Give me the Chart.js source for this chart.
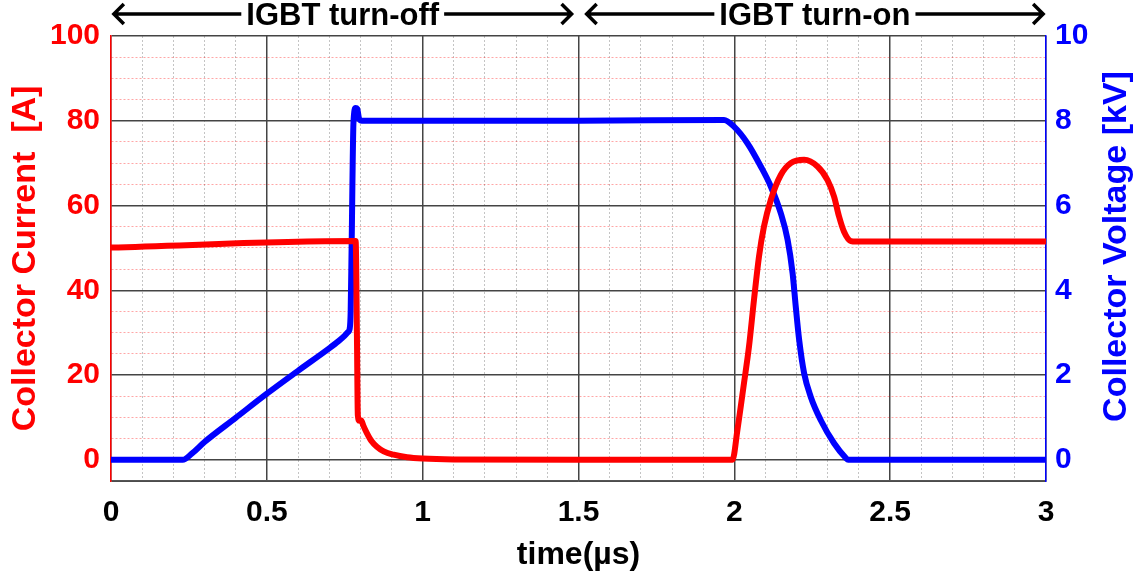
<!DOCTYPE html>
<html>
<head>
<meta charset="utf-8">
<script src="https://cdn.jsdelivr.net/npm/chart.js@4.4.0/dist/chart.umd.min.js"></script>
<style>
html,body{margin:0;padding:0;background:#fff;}
</style>
</head>
<body>
<canvas id="chart" width="1147" height="579"></canvas>
<script>
// collector current [A] vs time [us]
const timeI = [0, 0.785, 0.789, 0.792, 0.797, 0.803, 0.810, 0.821, 0.835, 0.853, 0.875, 0.907, 0.95, 1.0, 1.1, 1.5,
  1.994, 2.010, 2.031, 2.047, 2.063, 2.079, 2.095, 2.117, 2.149, 2.181, 2.224, 2.267, 2.299, 2.320, 2.336, 2.352, 2.374, 2.39, 3.0];
const currentA = [50.1, 51.6, 30, 10.5, 9.2, 9.3, 8.0, 6.3, 4.5, 3.1, 2.0, 1.2, 0.6, 0.3, 0.1, 0,
  0, 7.1, 18.1, 26.7, 37.7, 47.9, 55.0, 61.3, 67.2, 70.0, 70.8, 69.2, 66.0, 62.1, 57.4, 53.8, 51.6, 51.5, 51.5];

// collector voltage [kV] vs time [us]
const timeV = [0, 0.23, 0.26, 0.3, 0.4, 0.5, 0.6, 0.7, 0.73, 0.75, 0.76, 0.766, 0.769, 0.772, 0.778, 0.785, 0.79, 0.796, 0.805, 1.0, 1.5,
  1.967, 1.999, 2.042, 2.085, 2.117, 2.149, 2.171, 2.187, 2.197, 2.208, 2.224, 2.245, 2.277, 2.32, 2.358, 2.365, 3.0];
const voltageKV = [0, 0, 0.15, 0.42, 0.99, 1.56, 2.1, 2.63, 2.8, 2.93, 3.01, 3.1, 3.5, 5.0, 7.96, 8.3, 8.28, 8.05, 8.0, 8.0, 8.0,
  8.02, 7.86, 7.47, 6.92, 6.45, 5.82, 5.19, 4.40, 3.62, 2.83, 2.04, 1.49, 0.94, 0.39, 0.04, 0, 0];

// ticks
const xTicks = [];
for (let i = 0; i <= 30; i++) xTicks.push(i / 10);
const yTicks = [];
for (let v = -5; v <= 100; v += 5) yTicks.push(v);
const y1Ticks = [0, 2, 4, 6, 8, 10];

// phase arrows on top
const phaseLabels = ['IGBT turn-off', 'IGBT turn-on'];
const phaseStart = [0.006, 1.523];
const phaseEnd = [1.481, 2.994];

const FONT = '"Liberation Sans", Arial, sans-serif';

function isMajorX(v) { return Math.abs(v * 2 - Math.round(v * 2)) < 1e-6; }
function isMajorY(v) { return v % 20 === 0; }

const phaseArrows = {
  id: 'phaseArrows',
  afterDraw(chart) {
    const c = chart.ctx, sx = chart.scales.x;
    c.save();
    c.font = 'bold 31px ' + FONT;
    c.fillStyle = '#000';
    c.strokeStyle = '#000';
    c.lineWidth = 3.5;
    c.textAlign = 'center';
    c.textBaseline = 'middle';
    const y = 14;
    for (let i = 0; i < phaseLabels.length; i++) {
      const x0 = sx.getPixelForValue(phaseStart[i]);
      const x1 = sx.getPixelForValue(phaseEnd[i]);
      const mid = (x0 + x1) / 2;
      const w = c.measureText(phaseLabels[i]).width;
      c.fillText(phaseLabels[i], mid, y + 2);
      c.beginPath();
      c.moveTo(x0, y); c.lineTo(mid - w / 2 - 5, y);
      c.moveTo(mid + w / 2 + 5, y); c.lineTo(x1, y);
      c.moveTo(x0 + 11, y - 10); c.lineTo(x0 + 1, y); c.lineTo(x0 + 11, y + 10);
      c.moveTo(x1 - 11, y - 10); c.lineTo(x1 - 1, y); c.lineTo(x1 - 11, y + 10);
      c.stroke();
    }
    c.restore();
  }
};

const rightTitle = {
  id: 'rightTitle',
  afterDraw(chart) {
    const c = chart.ctx, a = chart.chartArea;
    c.save();
    c.translate(1117, (a.top + a.bottom) / 2 - 12);
    c.rotate(-Math.PI / 2);
    c.font = 'bold 34px ' + FONT;
    c.fillStyle = '#0000ff';
    c.textAlign = 'center';
    c.textBaseline = 'middle';
    c.fillText('Collector Voltage [kV]', 0, 0);
    c.restore();
  }
};

new Chart(document.getElementById('chart'), {
  type: 'line',
  data: {
    datasets: [{
      label: 'Collector Current',
      data: timeI.map((t, i) => ({x: t, y: currentA[i]})),
      borderColor: '#ff0000',
      borderWidth: 6,
      pointRadius: 0,
      cubicInterpolationMode: 'monotone',
      yAxisID: 'y'
    }, {
      label: 'Collector Voltage',
      data: timeV.map((t, i) => ({x: t, y: voltageKV[i]})),
      borderColor: '#0000ff',
      borderWidth: 6,
      pointRadius: 0,
      cubicInterpolationMode: 'monotone',
      yAxisID: 'y1'
    }]
  },
  options: {
    responsive: false,
    animation: false,
    layout: {padding: {top: 36, left: 0, right: 0, bottom: 0}},
    plugins: {legend: {display: false}, tooltip: {enabled: false}},
    scales: {
      x: {
        type: 'linear', min: 0, max: 3,
        afterBuildTicks: ax => { ax.ticks = xTicks.map(v => ({value: v})); },
        afterFit: ax => { ax.height = 98; },
        ticks: {
          autoSkip: false, maxRotation: 0, padding: 14, color: '#000',
          font: {family: FONT, size: 30, weight: 'bold'},
          callback: v => isMajorX(v) ? String(v) : ''
        },
        grid: {
          drawTicks: false,
          color: ctx => ctx.tick && isMajorX(ctx.tick.value) ? '#444' : '#c4c4c4',
          lineWidth: ctx => ctx.tick && isMajorX(ctx.tick.value) ? 1.5 : 1
        },
        border: {color: '#555', width: 1.5, dash: ctx => ctx.tick && !isMajorX(ctx.tick.value) ? [2, 2] : []},
        title: {display: true, text: 'time(µs)', color: '#000', font: {family: FONT, size: 32, weight: 'bold'}, padding: {top: 0, bottom: 5}}
      },
      y: {
        position: 'left', min: -5, max: 100,
        afterBuildTicks: ax => { ax.ticks = yTicks.map(v => ({value: v})); },
        afterFit: ax => { ax.width = 111; },
        ticks: {
          autoSkip: false, padding: 11, color: '#ff0000',
          font: {family: FONT, size: 30, weight: 'bold'},
          callback: v => (v >= 0 && isMajorY(v)) ? String(v) : ''
        },
        grid: {
          drawTicks: false,
          color: ctx => ctx.tick && (isMajorY(ctx.tick.value) || ctx.tick.value < 0) ? '#444' : 'rgba(255,0,0,0.35)',
          lineWidth: ctx => ctx.tick && isMajorY(ctx.tick.value) ? 1.5 : 1
        },
        border: {color: '#ff0000', width: 1.5, dash: ctx => ctx.tick && !isMajorY(ctx.tick.value) && ctx.tick.value >= 0 ? [2, 2] : []},
        title: {display: true, text: 'Collector Current  [A]', color: '#ff0000', font: {family: FONT, size: 34, weight: 'bold'}, padding: {top: 5, bottom: 0}}
      },
      y1: {
        position: 'right', min: -0.5, max: 10,
        afterBuildTicks: ax => { ax.ticks = y1Ticks.map(v => ({value: v})); },
        afterFit: ax => { ax.width = 101; },
        ticks: {
          autoSkip: false, padding: 9, color: '#0000ff',
          font: {family: FONT, size: 30, weight: 'bold'}
        },
        grid: {display: false, drawTicks: false},
        border: {color: '#0000ff', width: 1.5}
      }
    }
  },
  plugins: [phaseArrows, rightTitle]
});
</script>
</body>
</html>
